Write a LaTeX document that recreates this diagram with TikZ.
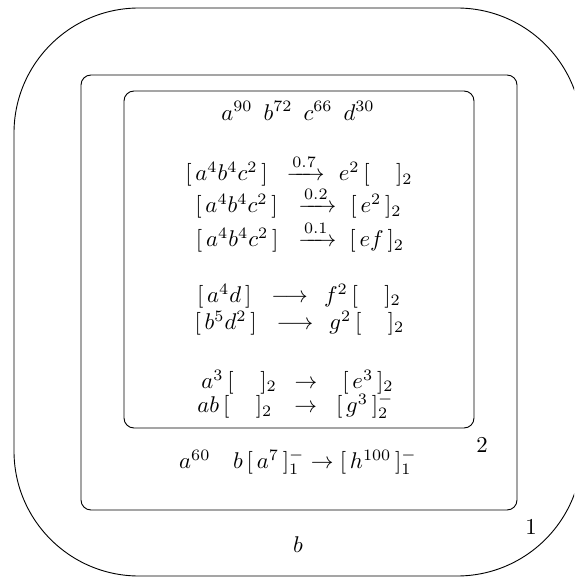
\documentclass[tikz,border=0pt]{standalone}
\usepackage{amsmath}
\newcommand{\hs}[1]{\hspace{#1pt}}
\begin{document}
\begin{tikzpicture}[x={(0.44pt,0)},y={(0,-0.44pt)},
  memb/.style={draw,line width=0.4pt},
  txt/.style={inner sep=0pt,font=\fontsize{10}{12}\selectfont}]
\useasboundingbox (0,0) rectangle (574,577);
\begin{scope}
\clip (0,0) rectangle (574,577);
\draw[memb,rounded corners=55pt] (14,8) rectangle (582,576);
\end{scope}
\draw[memb,rounded corners=4.4pt] (81,75) rectangle (517,510);
\draw[memb,rounded corners=4.4pt] (124,91) rectangle (474,428);
\node[txt] (w) at (298,111) {$a^{90}\hs{4.8}b^{72}\hs{4.8}c^{66}\hs{4.8}d^{30}$};
\node[txt] (r1) at (299,171) {$[\,a^4b^4c^2\,]\hs{5.6}\xrightarrow{0.7}\hs{3.4}e^2\,[\quad\,]_2$};
\node[txt] (r2) at (298.5,203) {$[\,a^4b^4c^2\,]\hs{6.3}\xrightarrow{0.2}\hs{3.4}[\,e^2\,]_2$};
\node[txt] (r3) at (300,237) {$[\,a^4b^4c^2\,]\hs{6}\xrightarrow{0.1}\hs{3}[\,ef\,]_2$};
\node[txt] (r4) at (299,296) {$[\,a^4d\,]\hs{6}\longrightarrow\hs{4.3}f^2\,[\quad\,]_2$};
\node[txt] (r5) at (299.5,323) {$[\,b^5d^2\,]\hs{6}\longrightarrow\hs{4.3}g^2\,[\quad\,]_2$};
\node[txt] (r6) at (297.5,382) {$a^3\,[\quad\,]_2\hs{5.1}\to\hs{8.2}[\,e^3\,]_2$};
\node[txt] (r7) at (295.5,406) {$ab\,[\quad\,]_2\hs{6.9}\to\hs{5.6}[\,g^3\,]_2^-$};
\node[txt] (s1) at (298,462) {$a^{60}\quad b\,[\,a^7\,]_1^-\to[\,h^{100}\,]_1^-$};
\node[txt] (l2) at (482,445) {2};
\node[txt] (l1) at (531,527) {1};
\node[txt] (b) at (298,545) {$b$};
\end{tikzpicture}
\end{document}
